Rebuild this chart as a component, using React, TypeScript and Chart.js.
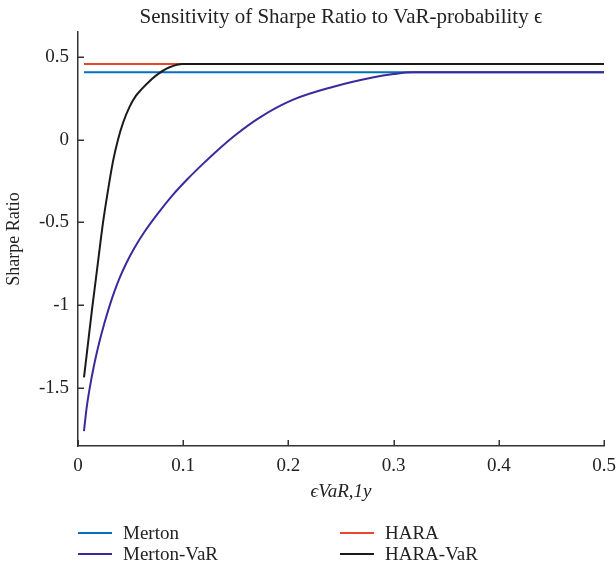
import React, { useEffect, useRef } from "react";
import { Chart, registerables } from "chart.js";

Chart.register(...registerables);

// VaR-probability grid and Sharpe ratios of each strategy
const mertonX = [0.0057, 0.5];
const mertonY = [0.407, 0.407];

const haraX = [0.0057, 0.5];
const haraY = [0.457, 0.457];

const mertonVaRX = [
  0.0057, 0.008, 0.0108, 0.015, 0.02, 0.025, 0.0307, 0.035, 0.0396, 0.046,
  0.054, 0.0634, 0.076, 0.09, 0.1046, 0.119, 0.133, 0.15, 0.173, 0.204, 0.242,
  0.28, 0.3, 0.318, 0.34, 0.4, 0.5,
];
const mertonVaRY = [
  -1.76, -1.63, -1.513, -1.37, -1.23, -1.11, -0.99, -0.91, -0.835, -0.745,
  -0.65, -0.555, -0.445, -0.335, -0.235, -0.145, -0.062, 0.03, 0.135, 0.24,
  0.318, 0.375, 0.396, 0.407, 0.407, 0.407, 0.407,
];

const haraVaRX = [
  0.0057, 0.01, 0.0133, 0.019, 0.0238, 0.0279, 0.0333, 0.038, 0.043, 0.049,
  0.055, 0.0605, 0.07, 0.076, 0.087, 0.0998, 0.12, 0.2, 0.3, 0.4, 0.5,
];
const haraVaRY = [
  -1.435, -1.204, -1.027, -0.74, -0.5, -0.33, -0.13, 0.0, 0.105, 0.198, 0.264,
  0.305, 0.365, 0.396, 0.437, 0.457, 0.457, 0.457, 0.457, 0.457, 0.457,
];

const seriesNames = ["Merton", "HARA", "Merton-VaR", "HARA-VaR"];
const seriesColors = ["#0072BD", "#E8462E", "#3B2A9B", "#1A1A1A"];

const xTicks = [0, 0.1, 0.2, 0.3, 0.4, 0.5];
const yTicks = [-1.5, -1, -0.5, 0, 0.5];

const titleText = "Sensitivity of Sharpe Ratio to VaR-probability \u03F5";
const xTitle = "\u03F5VaR,1y";
const yTitle = "Sharpe Ratio";

const SERIF = "'Liberation Serif', 'Times New Roman', serif";
const AXIS_COLOR = "#333333";

const pairs = (xs: number[], ys: number[]) => xs.map((x, i) => ({ x, y: ys[i] }));

// Title over the plot area, inward tick marks and a two-column legend
const decorations = {
  id: "decorations",
  afterDraw(chart: any) {
    const { ctx, chartArea } = chart;
    const xs = chart.scales.x;
    const ys = chart.scales.y;
    ctx.save();

    ctx.fillStyle = "#222";
    ctx.font = `21px ${SERIF}`;
    ctx.textAlign = "center";
    ctx.textBaseline = "middle";
    ctx.fillText(titleText, (chartArea.left + chartArea.right) / 2, 17);

    ctx.strokeStyle = AXIS_COLOR;
    ctx.lineWidth = 1.5;
    ctx.beginPath();
    xTicks.forEach((v) => {
      const px = Math.round(xs.getPixelForValue(v)) + 0.25;
      ctx.moveTo(px, chartArea.bottom);
      ctx.lineTo(px, chartArea.bottom - 6);
    });
    yTicks.forEach((v) => {
      const py = Math.round(ys.getPixelForValue(v)) + 0.25;
      ctx.moveTo(chartArea.left, py);
      ctx.lineTo(chartArea.left + 6, py);
    });
    ctx.stroke();

    // legend: Merton / HARA on the first row, the VaR variants below
    const cols = [chartArea.left, chartArea.left + 262];
    const rows = [533, 554];
    ctx.font = `19px ${SERIF}`;
    ctx.textAlign = "left";
    ctx.textBaseline = "middle";
    chart.data.datasets.forEach((ds: any, di: number) => {
      const x0 = cols[di % 2];
      const y0 = rows[di < 2 ? 0 : 1];
      ctx.strokeStyle = ds.borderColor;
      ctx.lineWidth = 2;
      ctx.beginPath();
      ctx.moveTo(x0, y0);
      ctx.lineTo(x0 + 34, y0);
      ctx.stroke();
      ctx.fillStyle = "#222";
      ctx.fillText(ds.label, x0 + 45, y0 + 1);
    });

    ctx.restore();
  },
};

export default function App() {
  const ref = useRef<HTMLCanvasElement | null>(null);

  useEffect(() => {
    if (!ref.current) return;
    const data = [
      pairs(mertonX, mertonY),
      pairs(haraX, haraY),
      pairs(mertonVaRX, mertonVaRY),
      pairs(haraVaRX, haraVaRY),
    ];
    const chart = new Chart(ref.current, {
      type: "line",
      data: {
        datasets: data.map((d, i) => ({
          label: seriesNames[i],
          data: d,
          borderColor: seriesColors[i],
          backgroundColor: seriesColors[i],
          borderWidth: 2,
          pointRadius: 0,
          fill: false,
          cubicInterpolationMode: "monotone" as const,
          order: 4 - i,
        })),
      },
      options: {
        responsive: false,
        animation: false,
        layout: { padding: { left: 0, right: 12, top: 32, bottom: 65 } },
        plugins: {
          legend: { display: false },
          title: { display: false },
          tooltip: { enabled: false },
        },
        scales: {
          x: {
            type: "linear",
            min: 0,
            max: 0.5,
            afterBuildTicks: (s: any) => {
              s.ticks = xTicks.map((v) => ({ value: v }));
            },
            afterFit: (s: any) => {
              s.height = 58;
              s.paddingLeft = 0;
              s.paddingRight = 0;
            },
            grid: { display: false, drawTicks: false },
            border: { display: true, color: AXIS_COLOR, width: 1.5 },
            ticks: {
              padding: 9,
              color: "#222",
              font: { family: SERIF, size: 19 },
              maxRotation: 0,
              callback: (v: any) => String(v),
            },
            title: {
              display: true,
              text: xTitle,
              color: "#222",
              font: { family: SERIF, size: 19, style: "italic" },
              padding: { top: 0, bottom: 1 },
            },
          },
          y: {
            type: "linear",
            min: -1.85,
            max: 0.65,
            afterBuildTicks: (s: any) => {
              s.ticks = yTicks.map((v) => ({ value: v }));
            },
            afterFit: (s: any) => {
              s.width = 78;
              s.paddingTop = 0;
              s.paddingBottom = 0;
            },
            grid: { display: false, drawTicks: false },
            border: { display: true, color: AXIS_COLOR, width: 1.5 },
            ticks: {
              padding: 9,
              color: "#222",
              font: { family: SERIF, size: 19 },
              callback: (v: any) => String(v),
            },
            title: {
              display: true,
              text: yTitle,
              color: "#222",
              font: { family: SERIF, size: 18 },
              padding: { top: 3, bottom: 0 },
            },
          },
        },
      },
      plugins: [decorations],
    });
    return () => chart.destroy();
  }, []);

  return (
    <div style={{ position: "absolute", left: 0, top: 0, width: 616, height: 569, background: "#fff" }}>
      <canvas ref={ref} width={616} height={569} style={{ display: "block" }} />
    </div>
  );
}
